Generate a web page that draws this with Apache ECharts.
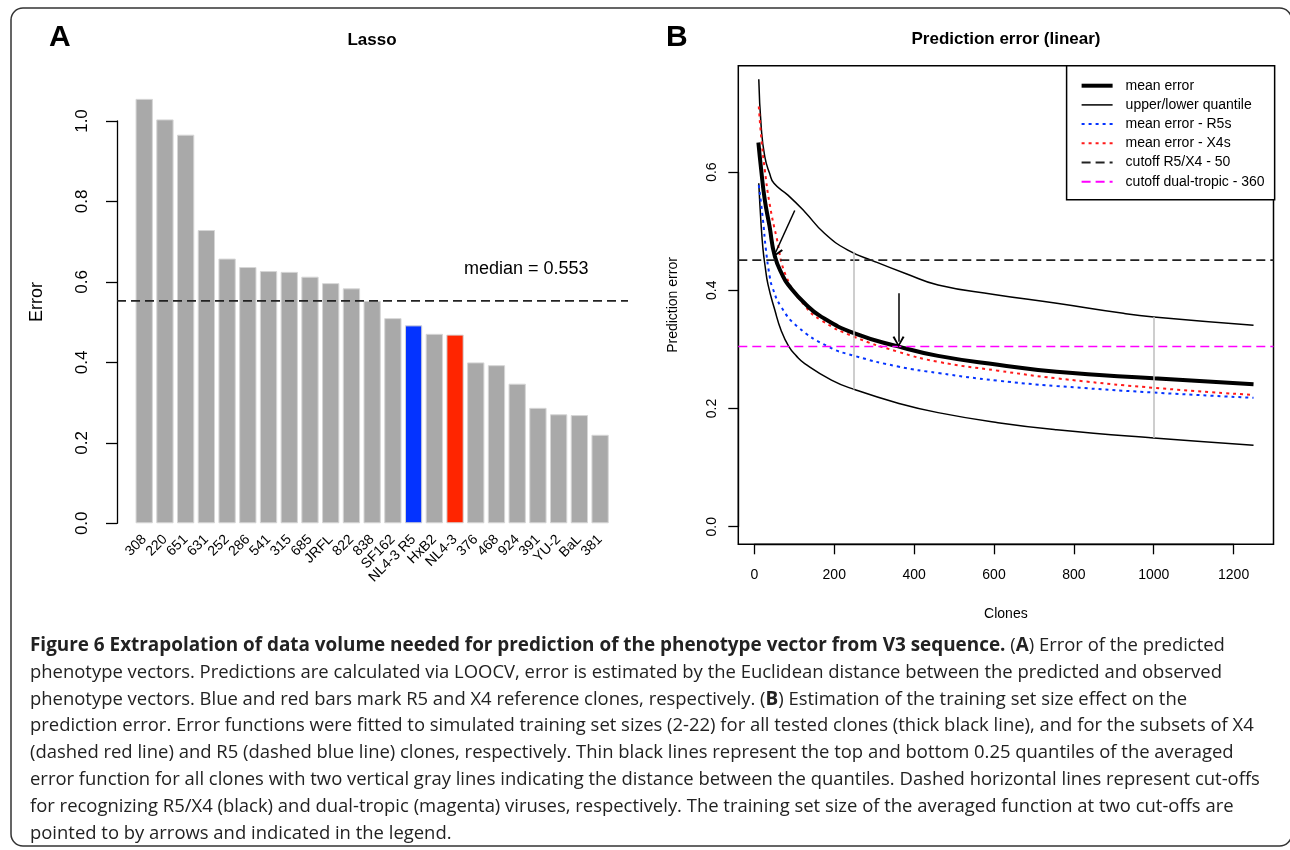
<!DOCTYPE html>
<html><head><meta charset="utf-8">
<script src="https://cdn.jsdelivr.net/npm/echarts@6/dist/echarts.min.js"></script>
<style>html,body{margin:0;padding:0;background:#fff}#c{width:1290px;height:850px}</style>
</head><body><div id="c"></div>
<script>
// ---------- Panel A data ----------
const cloneNames = ['308','220','651','631','252','286','541','315','685','JRFL','822','838','SF162','NL4-3 R5','HxB2','NL4-3','376','468','924','391','YU-2','BaL','381'];
const cloneErrors = [1.055,1.004,0.966,0.729,0.658,0.637,0.627,0.625,0.613,0.597,0.584,0.553,0.510,0.492,0.471,0.469,0.400,0.393,0.347,0.287,0.271,0.269,0.220];
const medianError = 0.553;
const r5Reference = 'NL4-3 R5';
const x4Reference = 'NL4-3';

// ---------- Panel B data ----------
const meanX  = [10,17,26,38,51,72,84,126,168,251,360,460,610,757,1000,1250];
const meanY  = [0.650,0.604,0.553,0.508,0.458,0.423,0.410,0.378,0.355,0.327,0.305,0.289,0.274,0.262,0.251,0.241];
const upperX = [11,17,26,38,49,84,126,176,234,300,380,460,600,757,924,1000,1250];
const upperY = [0.757,0.677,0.626,0.598,0.581,0.561,0.533,0.496,0.468,0.449,0.428,0.409,0.393,0.378,0.361,0.355,0.341];
const lowerX = [11,16,21.5,27,34,51,67,86,105,126,193,251,360,460,610,757,1000,1250];
const lowerY = [0.581,0.520,0.470,0.440,0.410,0.367,0.332,0.305,0.289,0.276,0.248,0.232,0.209,0.193,0.176,0.164,0.150,0.138];
const r5X    = [11,21,29,38,45,67,109,184,251,360,460,610,757,1000,1250];
const r5Y    = [0.578,0.522,0.468,0.425,0.405,0.372,0.338,0.305,0.289,0.271,0.260,0.247,0.238,0.227,0.218];
const x4X    = [11,17,26,38,55,80,126,168,251,360,460,610,757,1000,1250];
const x4Y    = [0.711,0.660,0.604,0.547,0.491,0.423,0.374,0.349,0.321,0.296,0.279,0.264,0.251,0.235,0.223];
const cutoffR5X4 = 0.451;
const cutoffDual = 0.305;
const gapX    = [250, 1000];
const gapLow  = [0.232, 0.150];
const gapHigh = [0.465, 0.355];
const arrowFrom = [[101, 0.535], [361, 0.395]];
const arrowTo   = [[53, 0.464], [361, 0.313]];
const clonesRange = [-40.3, 1300];
const predRange = [-0.0298, 0.780];

const legendNames = ['mean error','upper/lower quantile','mean error - R5s','mean error - X4s','cutoff R5/X4 - 50','cutoff dual-tropic - 360'];

const captionLines = [
  '{b|Figure 6 Extrapolation of data volume needed for prediction of the phenotype vector from V3 sequence.} ({b|A}) Error of the predicted',
  'phenotype vectors. Predictions are calculated via LOOCV, error is estimated by the Euclidean distance between the predicted and observed',
  'phenotype vectors. Blue and red bars mark R5 and X4 reference clones, respectively. ({b|B}) Estimation of the training set size effect on the',
  'prediction error. Error functions were fitted to simulated training set sizes (2-22) for all tested clones (thick black line), and for the subsets of X4',
  '(dashed red line) and R5 (dashed blue line) clones, respectively. Thin black lines represent the top and bottom 0.25 quantiles of the averaged',
  'error function for all clones with two vertical gray lines indicating the distance between the quantiles. Dashed horizontal lines represent cut-offs',
  'for recognizing R5/X4 (black) and dual-tropic (magenta) viruses, respectively. The training set size of the averaged function at two cut-offs are',
  'pointed to by arrows and indicated in the legend.'
];

// ---------- styling ----------
const FONT = '"Liberation Sans", Arial, Helvetica, sans-serif';
const CAP_FONT = '"Open Sans", "Noto Sans", sans-serif';
const GRAY = '#A9A9A9', BLUE = '#0433FF', RED = '#FF2500';
const chevron = 'path://M0,10 L5,0 L10,10 L8.4,10.8 L5,3.2 L1.6,10.8 Z';
const zip = (xs, ys) => xs.map((x, i) => [x, ys[i]]);

const chart = echarts.init(document.getElementById('c'), null, {renderer: 'canvas'});

const axisLineStyle = {color: '#000', width: 1.3};

const curve = (name, xs, ys, color, width, dash) => ({
  name, type: 'line', xAxisIndex: 2, yAxisIndex: 2, data: zip(xs, ys),
  showSymbol: false, symbol: 'circle', symbolSize: 0, smooth: 0.5, silent: true,
  lineStyle: {color, width, type: dash || 'solid', cap: 'butt'}, itemStyle: {color}
});

const series = [
  { // median line (panel A)
    name: 'median', type: 'line', xAxisIndex: 0, yAxisIndex: 0,
    data: [[0, medianError], [1, medianError]], symbol: 'none', silent: true,
    lineStyle: {color: '#222', width: 1.6, type: [9, 5]}
  },
  { // bars
    name: 'Lasso', type: 'bar', xAxisIndex: 1, yAxisIndex: 1, barCategoryGap: '16.5%',
    data: cloneErrors.map((v, i) => ({
      value: v,
      itemStyle: {color: cloneNames[i] === r5Reference ? BLUE : (cloneNames[i] === x4Reference ? RED : GRAY)}
    })),
    itemStyle: {borderColor: '#d6d6d6', borderWidth: 1}, silent: true
  },
  curve('upper/lower quantile', upperX, upperY, '#000', 1.5),
  curve('upper/lower quantile', lowerX, lowerY, '#000', 1.5),
  curve('mean error - R5s', r5X, r5Y, BLUE, 2, [3, 4]),
  curve('mean error - X4s', x4X, x4Y, '#FF1A1A', 2, [3, 4]),
  curve('mean error', meanX, meanY, '#000', 4),
  {
    name: 'cutoff R5/X4 - 50', type: 'line', xAxisIndex: 2, yAxisIndex: 2,
    data: [[clonesRange[0], cutoffR5X4], [clonesRange[1], cutoffR5X4]], showSymbol: false, symbolSize: 0, silent: true,
    lineStyle: {color: '#222', width: 1.6, type: [9, 5]}, itemStyle: {color: '#222'}
  },
  {
    name: 'cutoff dual-tropic - 360', type: 'line', xAxisIndex: 2, yAxisIndex: 2,
    data: [[clonesRange[0], cutoffDual], [clonesRange[1], cutoffDual]], showSymbol: false, symbolSize: 0, silent: true,
    lineStyle: {color: '#FF00FF', width: 1.6, type: [9, 5]}, itemStyle: {color: '#FF00FF'}
  },
  { // vertical gray lines + arrows
    name: 'annotations', type: 'line', xAxisIndex: 2, yAxisIndex: 2, data: [], symbol: 'none', silent: true,
    markLine: {
      silent: true, animation: false, label: {show: false},
      symbol: ['none', 'none'],
      lineStyle: {color: '#BEBEBE', width: 1.5, type: 'solid'},
      data: gapX.map((x, i) => [{coord: [x, gapLow[i]]}, {coord: [x, gapHigh[i]]}]).concat(
        arrowFrom.map((p, i) => [
          {coord: p, symbol: 'none', lineStyle: {color: '#000', width: 1.5, type: 'solid'}},
          {coord: arrowTo[i], symbol: chevron, symbolSize: [12, 11], symbolOffset: [0, 0]}
        ]))
    }
  }
];

const legendItem = (name, width) => ({name, lineStyle: {width}, itemStyle: {opacity: 0, borderWidth: 0}});

const option = {
  animation: false,
  backgroundColor: '#fff',
  textStyle: {fontFamily: FONT, color: '#000'},
  title: [
    {text: 'Lasso', left: 372, top: 32, textAlign: 'center', padding: 0,
     textStyle: {fontFamily: FONT, fontSize: 17, fontWeight: 'bold', color: '#000'}},
    {text: 'Prediction error (linear)', left: 1006, top: 31, textAlign: 'center', padding: 0,
     textStyle: {fontFamily: FONT, fontSize: 17, fontWeight: 'bold', color: '#000'}}
  ],
  legend: {
    orient: 'vertical', left: 1066.6, top: 65.7,
    padding: [13, 10, 11, 13], itemWidth: 31, itemHeight: 14, itemGap: 5.2,
    borderColor: '#000', borderWidth: 1.5, backgroundColor: '#fff', borderRadius: 0,
    selectedMode: false,
    itemStyle: {opacity: 0, borderWidth: 0},
    textStyle: {fontFamily: FONT, fontSize: 14, color: '#000', padding: [0, 0, 0, 8]},
    data: [
      legendItem(legendNames[0], 4),
      legendItem(legendNames[1], 1.5),
      legendItem(legendNames[2], 2),
      legendItem(legendNames[3], 2),
      legendItem(legendNames[4], 2),
      legendItem(legendNames[5], 2)
    ]
  },
  grid: [
    {left: 117, top: 121, width: 511, height: 402.3},
    {left: 133.85, top: 80.77, width: 476.6, height: 442.53},
    {left: 738.3, top: 65.7, width: 535.2, height: 478.6, show: true, borderColor: '#000', borderWidth: 1.5, backgroundColor: 'transparent'},
    {left: 754.4, top: 500, width: 479.2, height: 44.3},
    {left: 738.3, top: 172.1, width: 20, height: 354.6}
  ],
  xAxis: [
    {gridIndex: 0, type: 'value', min: 0, max: 1, show: false},
    {gridIndex: 1, type: 'category', data: cloneNames,
     axisLine: {show: false}, axisTick: {show: false},
     axisLabel: {rotate: 45, margin: 14, fontSize: 14, color: '#000', interval: 0, fontFamily: FONT}},
    {gridIndex: 2, type: 'value', min: clonesRange[0], max: clonesRange[1],
     axisLine: {show: false}, axisTick: {show: false}, axisLabel: {show: false}, splitLine: {show: false},
     name: 'Clones', nameLocation: 'middle', nameGap: 63,
     nameTextStyle: {fontFamily: FONT, fontSize: 14, color: '#000'}},
    {gridIndex: 3, type: 'value', min: 0, max: 1200, interval: 200,
     axisLine: {onZero: false, lineStyle: axisLineStyle},
     axisTick: {length: 10, lineStyle: axisLineStyle},
     axisLabel: {fontSize: 14, margin: 24, color: '#000', fontFamily: FONT, formatter: v => String(v)},
     splitLine: {show: false}},
    {gridIndex: 4, type: 'value', show: false}
  ],
  yAxis: [
    {gridIndex: 0, type: 'value', min: 0, max: 1.0, interval: 0.2,
     axisLine: {show: true, onZero: false, lineStyle: axisLineStyle},
     axisTick: {show: true, length: 11, lineStyle: axisLineStyle},
     axisLabel: {rotate: 90, fontSize: 17, margin: 26, color: '#000', fontFamily: FONT, formatter: v => v.toFixed(1)},
     splitLine: {show: false}},
    {gridIndex: 1, type: 'value', min: 0, max: 1.1,
     axisLine: {show: false}, axisTick: {show: false}, axisLabel: {show: false}, splitLine: {show: false},
     name: 'Error', nameLocation: 'middle', nameGap: 88,
     nameTextStyle: {fontFamily: FONT, fontSize: 18, color: '#000'}},
    {gridIndex: 2, type: 'value', min: predRange[0], max: predRange[1],
     axisLine: {show: false}, axisTick: {show: false}, axisLabel: {show: false}, splitLine: {show: false},
     name: 'Prediction error', nameLocation: 'middle', nameGap: 58,
     nameTextStyle: {fontFamily: FONT, fontSize: 14, color: '#000'}},
    {gridIndex: 3, type: 'value', show: false},
    {gridIndex: 4, type: 'value', min: 0, max: 0.6, interval: 0.2,
     axisLine: {show: true, onZero: false, lineStyle: axisLineStyle},
     axisTick: {show: true, length: 10, lineStyle: axisLineStyle},
     axisLabel: {rotate: 90, fontSize: 14, margin: 19, color: '#000', fontFamily: FONT, formatter: v => v.toFixed(1)},
     splitLine: {show: false}}
  ],
  series,
  graphic: [
    {type: 'rect', shape: {x: 11, y: 8, width: 1280.6, height: 838, r: 12}, silent: true, z: -1,
     style: {fill: 'none', stroke: '#333', lineWidth: 1.5}},
    {type: 'text', x: 49, y: 38, silent: true,
     style: {text: 'A', font: 'bold 30px ' + FONT, fill: '#000', verticalAlign: 'middle'}},
    {type: 'text', x: 666, y: 38, silent: true,
     style: {text: 'B', font: 'bold 30px ' + FONT, fill: '#000', verticalAlign: 'middle'}},
    {type: 'text', x: 464, y: 269, silent: true,
     style: {text: 'median = ' + medianError.toFixed(3), font: '18px ' + FONT, fill: '#000', verticalAlign: 'middle'}}
  ].concat(captionLines.map((t, i) => ({
    type: 'text', x: 30, y: 645.7 + i * 26.8, silent: true,
    style: {
      text: t, fontFamily: CAP_FONT, fontSize: 18.45, fill: '#222', verticalAlign: 'middle',
      rich: {b: {fontFamily: CAP_FONT, fontSize: 18.9, fontWeight: 'bold', fill: '#222'}}
    }
  })))
};

chart.setOption(option);
</script>
</body></html>
